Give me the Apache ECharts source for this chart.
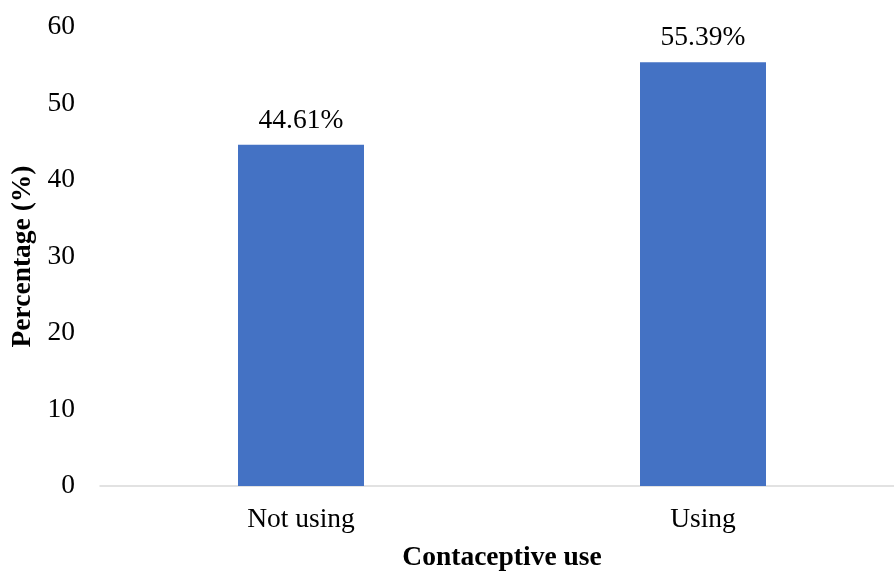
<!DOCTYPE html>
<html>
<head>
<meta charset="utf-8">
<script src="https://cdn.jsdelivr.net/npm/echarts@6/dist/echarts.min.js"></script>
<style>
  html, body { margin: 0; padding: 0; background: #fff; }
  #chart { width: 894px; height: 571px; }
</style>
</head>
<body>
<div id="chart"></div>
<script>
// Contraceptive use shares (%)
const categories = ['Not using', 'Using'];
const percentages = [44.61, 55.39];
const yTicks = { min: 0, max: 60, step: 10 };

const font = '"Liberation Serif", "Times New Roman", serif';
const chart = echarts.init(document.getElementById('chart'));

chart.setOption({
  animation: false,
  grid: { left: 100, top: 27, width: 804, bottom: 85, outerBoundsMode: 'none', containLabel: false },
  xAxis: {
    type: 'category',
    data: categories,
    name: 'Contaceptive use',
    nameLocation: 'middle',
    nameGap: 58,
    nameTextStyle: { fontFamily: font, fontSize: 27.5, fontWeight: 'bold', color: '#000' },
    axisLine: { lineStyle: { color: '#d9d9d9', width: 1.5 } },
    axisTick: { show: false },
    axisLabel: { fontFamily: font, fontSize: 27.5, color: '#000', margin: 20 }
  },
  yAxis: {
    type: 'value',
    min: yTicks.min,
    max: yTicks.max,
    interval: yTicks.step,
    name: 'Percentage (%)',
    nameLocation: 'middle',
    nameGap: 60,
    nameTextStyle: { fontFamily: font, fontSize: 27.5, fontWeight: 'bold', color: '#000' },
    axisLine: { show: false },
    axisTick: { show: false },
    splitLine: { show: false },
    axisLabel: { fontFamily: font, fontSize: 27.5, color: '#000', margin: 25 }
  },
  series: [{
    type: 'bar',
    data: percentages,
    barWidth: 126,
    itemStyle: { color: '#4472C4' },
    label: {
      show: true,
      position: 'top',
      distance: 10,
      fontFamily: font,
      fontSize: 27.5,
      color: '#000',
      formatter: p => p.value.toFixed(2) + '%'
    }
  }]
});
</script>
</body>
</html>
